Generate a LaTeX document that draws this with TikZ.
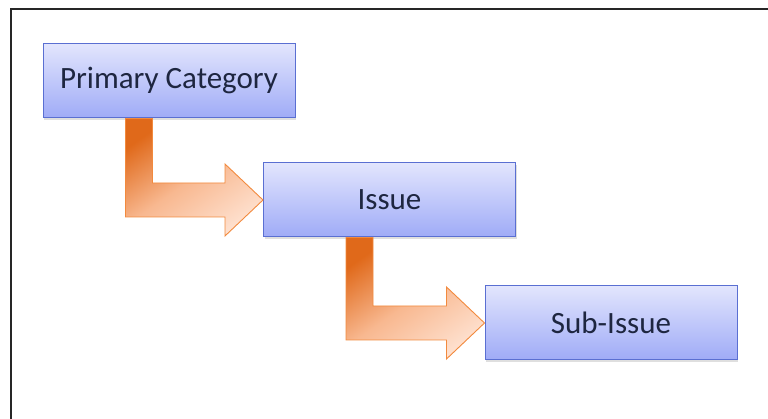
\documentclass[tikz,border=0pt]{standalone}
\usepackage{fontspec}
\setmainfont{Carlito}
\usepackage{tikz}
\usetikzlibrary{calc, shadows}

\definecolor{boxtop}{HTML}{E2E5FD}
\definecolor{boxbot}{HTML}{9FABF7}
\definecolor{boxline}{HTML}{5A6FD2}
\definecolor{arrdark}{HTML}{E0691A}
\definecolor{arrmid}{HTML}{F8B890}
\definecolor{arrlight}{HTML}{FEE0CE}
\definecolor{arrline}{HTML}{F28A3E}
\definecolor{txt}{HTML}{1E2640}

\tikzset{
  catbox/.style={draw=boxline, line width=1pt, top color=boxtop, bottom color=boxbot,
    minimum width=252pt, minimum height=74pt, inner sep=0pt,
    font=\fontsize{31}{34}\selectfont, text=txt,
    drop shadow={opacity=0.25, shadow xshift=1pt, shadow yshift=-2pt}},
  bentarrow/.style={draw=arrline, line width=0.9pt, top color=arrdark, bottom color=arrlight,
    middle color=arrmid, shading angle=35, line join=miter}
}

% arrow from the bottom of #1 into the west side of #2
\newcommand{\bendarrow}[2]{%
  \draw[bentarrow] let \p1=(#1.south west), \p2=(#2.west) in
    (\x1+83pt,\y1) -- (\x1+110pt,\y1) -- (\x1+110pt,\y2+17pt) -- (\x2-38pt,\y2+17pt)
    -- (\x2-38pt,\y2+36pt) -- (\p2) -- (\x2-38pt,\y2-36pt) -- (\x2-38pt,\y2-17pt)
    -- (\x1+83pt,\y2-17pt) -- cycle;}

\begin{document}
\begin{tikzpicture}[x=1pt, y=1pt]
	\useasboundingbox (0,0) rectangle (768,419);
	\draw[line width=1.5pt, black!85] (11,0) -- (11,410) -- (768,410);

	\node[catbox] (pc) at (169,338) {Primary Category};
	\node[catbox] (issue) at (389.5,219) {Issue};
	\node[catbox] (subissue) at (611,96) {Sub-Issue};

	\bendarrow{pc}{issue}
	\bendarrow{issue}{subissue}
\end{tikzpicture}
\end{document}
